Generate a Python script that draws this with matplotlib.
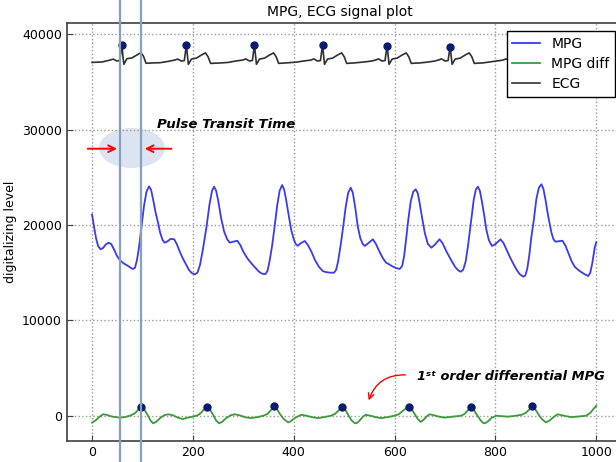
"""
plot.py - MPG / ECG signal plot with the pulse transit time annotated.

Produces:
    out.png
"""
import matplotlib
matplotlib.use("Agg")
import matplotlib.pyplot as plt
from matplotlib.patches import Ellipse

# --- MPG (photoplethysmogram) samples ---
mpg_x = [0, 4, 8, 12, 17, 22, 27, 33, 38, 43, 49, 55, 62, 70, 77, 81, 85, 89,
         93, 98, 103, 108, 113, 117, 121, 126, 131, 135, 140, 144, 150, 156,
         163, 168, 174, 180, 186, 192, 198, 204, 209, 214, 220, 227, 233, 238,
         242, 246, 250, 256, 262, 268, 273, 280, 288, 294, 300, 308, 316, 324,
         330, 336, 340, 344, 348, 352, 357, 362, 367, 372, 377, 381, 385, 390,
         395, 400, 404, 408, 414, 422, 428, 435, 442, 450, 458, 465, 472, 480,
         484, 488, 493, 498, 503, 508, 513, 517, 522, 527, 532, 537, 541, 548,
         557, 563, 570, 577, 583, 590, 596, 602, 610, 615, 619, 623, 627, 632,
         637, 642, 646, 650, 655, 660, 666, 673, 680, 689, 695, 702, 712, 720,
         726, 731, 736, 741, 746, 752, 757, 761, 765, 769, 773, 778, 782, 787,
         793, 800, 810, 816, 822, 829, 835, 842, 848, 855, 859, 863, 867, 871,
         876, 881, 886, 891, 895, 899, 903, 906, 911, 915, 919, 926, 933, 939,
         945, 951, 957, 965, 972, 978, 984, 988, 992, 997, 1000]
mpg_y = [21100, 19800, 18600, 17800, 17450, 17600, 17950, 18150, 18000, 17500,
         16800, 16330, 16000, 15750, 15500, 15390, 15500, 16300, 17600, 19820,
         22000, 23500, 24050, 23700, 22700, 21300, 20200, 19200, 18400, 18150,
         18300, 18550, 18500, 18000, 17200, 16500, 15900, 15300, 14950, 14830,
         15000, 15800, 17500, 19820, 22200, 23600, 24020, 23600, 22600, 20700,
         19300, 18500, 18150, 18250, 18350, 17900, 17200, 16500, 15980, 15500,
         15150, 14930, 14860, 14860, 15200, 16200, 17800, 19820, 22000, 23600,
         24190, 23700, 22600, 21000, 19480, 18500, 18000, 17820, 18100, 18320,
         17900, 17200, 16330, 15600, 15150, 15050, 15000, 15000, 15300, 16200,
         17900, 19820, 21900, 23400, 23910, 23400, 21800, 19820, 18600, 18000,
         17800, 18100, 18500, 18000, 17200, 16500, 16050, 15850, 15650, 15500,
         15390, 15700, 16800, 18600, 20520, 22500, 23500, 23740, 23300, 22200,
         20600, 19130, 18000, 17620, 17950, 18500, 18100, 17300, 16330, 15600,
         15250, 15100, 15300, 16200, 18000, 20520, 22700, 23700, 24020, 23600,
         22500, 20900, 19480, 18400, 17800, 18000, 18500, 18100, 17400, 16600,
         15980, 15300, 14850, 14580, 14700, 15400, 16800, 18700, 20520, 22700,
         23900, 24270, 23800, 22700, 21400, 20520, 19200, 18500, 18250, 18300,
         18350, 17800, 17000, 16200, 15630, 15250, 15000, 14800, 14650, 15000,
         16000, 17700, 18200]

# --- first order difference of the MPG ---
diff_x = [0, 8, 15, 22, 30, 40, 55, 65, 75, 85, 92, 98, 103, 110, 116, 121,
          127, 135, 143, 151, 160, 170, 180, 190, 200, 210, 216, 222, 228, 233,
          240, 246, 252, 258, 266, 275, 283, 292, 303, 315, 328, 340, 348, 355,
          361, 366, 373, 380, 389, 395, 403, 415, 425, 436, 448, 460, 474, 482,
          489, 496, 501, 508, 514, 520, 524, 530, 537, 543, 552, 562, 573, 586,
          600, 608, 615, 622, 628, 633, 640, 646, 652, 658, 664, 669, 678, 688,
          699, 715, 732, 739, 745, 751, 756, 763, 770, 775, 779, 785, 793, 802,
          812, 825, 840, 852, 860, 867, 873, 878, 885, 892, 900, 906, 914, 923,
          932, 940, 950, 965, 980, 988, 995, 1000]
diff_y = [-730, -450, -100, 150, 80, -100, -200, -150, 0, 250, 650, 950, 700,
          100, -500, -800, -650, -250, 50, 150, 50, -200, -350, -200, -100, 50,
          300, 650, 950, 700, 100, -500, -800, -650, -250, 50, 150, 50, -150,
          -250, -150, 0, 200, 600, 1000, 750, 150, -350, -700, -550, -200, 100,
          0, -150, -250, -150, 0, 200, 550, 950, 700, 100, -450, -750, -800,
          -550, -100, 100, 0, -150, -250, -150, 0, 150, 450, 750, 950, 750, 150,
          -350, -650, -400, -50, 150, 50, -100, -200, -100, 0, 200, 550, 950,
          700, 100, -450, -750, -800, -600, -200, 0, -50, -100, 0, 100, 300,
          650, 1000, 750, 150, -350, -700, -550, -200, 150, 50, -50, -150, -80,
          0, 300, 750, 1050]
diff_peak_x = [98, 228, 361, 496, 628, 751, 873]
diff_peak_y = [950, 950, 1000, 950, 950, 950, 1000]

# --- ECG ---
ecg_x = [0, 20, 36, 42, 49, 55, 59, 63, 69, 79, 88, 97, 102, 107, 120, 135,
         150, 164, 170, 177, 183, 187, 191, 197, 207, 216, 225, 230, 235, 250,
         270, 285, 299, 305, 312, 318, 322, 326, 332, 342, 351, 360, 365, 370,
         385, 405, 420, 434, 440, 447, 453, 457, 461, 467, 477, 486, 495, 500,
         505, 520, 540, 555, 562, 568, 575, 581, 585, 589, 595, 605, 614, 623,
         628, 633, 650, 665, 680, 687, 693, 700, 706, 710, 714, 720, 730, 739,
         748, 753, 758, 775, 795, 810, 815, 821, 828, 834, 838, 842, 848, 858,
         867, 876, 881, 886, 905, 925, 945, 951, 958, 961, 965, 969, 975, 985,
         1000]
ecg_y = [37050, 37100, 37300, 37400, 37200, 37250, 38880, 36850, 37440, 37520,
         37800, 38070, 37700, 36960, 37000, 37020, 37150, 37300, 37400, 37200,
         37250, 38880, 36850, 37400, 37500, 37800, 38050, 37650, 36950, 36980,
         37050, 37200, 37300, 37420, 37200, 37250, 38880, 36850, 37400, 37500,
         37800, 38050, 37650, 36950, 37000, 37080, 37200, 37300, 37420, 37200,
         37250, 38880, 36850, 37400, 37500, 37800, 38050, 37650, 36950, 37000,
         37100, 37200, 37300, 37420, 37200, 37250, 38800, 36850, 37400, 37500,
         37800, 38050, 37650, 36950, 37000, 37080, 37200, 37300, 37420, 37200,
         37250, 38700, 36850, 37400, 37500, 37800, 38050, 37650, 36950, 37000,
         37150, 37250, 37300, 37420, 37200, 37250, 38880, 36850, 37400, 37500,
         37800, 38050, 37650, 36950, 37000, 37100, 37250, 37400, 37200, 37250,
         38880, 36850, 37400, 37500, 37900]
r_peak_x = [59, 187, 322, 457, 585, 710]
r_peak_y = [38880, 38880, 38880, 38880, 38800, 38700]

# pulse transit time markers (R peak -> MPG foot)
ptt_lines = [55, 97]


def main():
    fig = plt.figure(figsize=(6.16, 4.62), dpi=100)
    ax = fig.add_axes([0.1085, 0.0455, 0.9005, 0.904])

    ax.add_patch(Ellipse((79, 28075), 131, 4200, facecolor="#dce4f1",
                         edgecolor="none", zorder=1))

    ax.plot(mpg_x, mpg_y, color="#3a3aee", lw=1.3, label="MPG", zorder=3)
    ax.plot(diff_x, diff_y, color="#3c9a3c", lw=1.3, label="MPG diff", zorder=3)
    ax.plot(ecg_x, ecg_y, color="#303030", lw=1.2, label="ECG", zorder=3)
    ax.plot(diff_peak_x, diff_peak_y, "o", color="#0a1a6e", ms=5, zorder=4)
    ax.plot(r_peak_x, r_peak_y, "o", color="#0a1a6e", ms=5, zorder=4)

    for x in ptt_lines:
        ax.axvline(x, ymin=-0.06, ymax=1.06, color="#86a0be", lw=1.6,
                   clip_on=False, zorder=5)

    # arrows pointing at the PTT gap
    arrow = dict(arrowstyle="->", color="red", lw=1.4, mutation_scale=12)
    ax.annotate("", xy=(55, 28000), xytext=(-14, 28000), arrowprops=arrow, zorder=6)
    ax.annotate("", xy=(99, 28000), xytext=(163, 28000), arrowprops=arrow, zorder=6)
    ax.text(129, 30590, "Pulse Transit Time", fontsize=9.6, fontweight="bold",
            fontstyle="italic", va="center", ha="left")

    ax.annotate("", xy=(547, 1330), xytext=(627, 4270),
                arrowprops=dict(arrowstyle="->", color="red", lw=1.0,
                                connectionstyle="arc3,rad=0.4"))
    ax.text(644, 4060, "1ˢᵗ order differential MPG", fontsize=9.4,
            fontweight="bold", fontstyle="italic", va="center", ha="left")

    ax.set_xlim(-50, 1050)
    ax.set_ylim(-2650, 41150)
    ax.set_xticks(range(0, 1001, 200))
    ax.set_yticks(range(0, 40001, 10000))
    ax.tick_params(direction="in", labelsize=9, length=4, color="#404040")
    ax.grid(True, color="0.6", linestyle=":", lw=1)
    for sp in ax.spines.values():
        sp.set_color("#404040")
        sp.set_linewidth(1.2)

    ax.set_ylabel("digitalizing level", fontsize=9)
    ax.set_title("MPG, ECG signal plot", fontsize=10, pad=5, x=0.493)

    leg = ax.legend(loc="upper right", bbox_to_anchor=(615 / 616, 1 - 31 / 462),
                    bbox_transform=fig.transFigure, borderaxespad=0,
                    fancybox=False, fontsize=10, handlelength=2,
                    labelspacing=0.45, framealpha=1)
    leg.get_frame().set_edgecolor("black")
    leg.set_zorder(10)

    fig.savefig("out.png", dpi=100)
    plt.close(fig)


if __name__ == "__main__":
    main()
